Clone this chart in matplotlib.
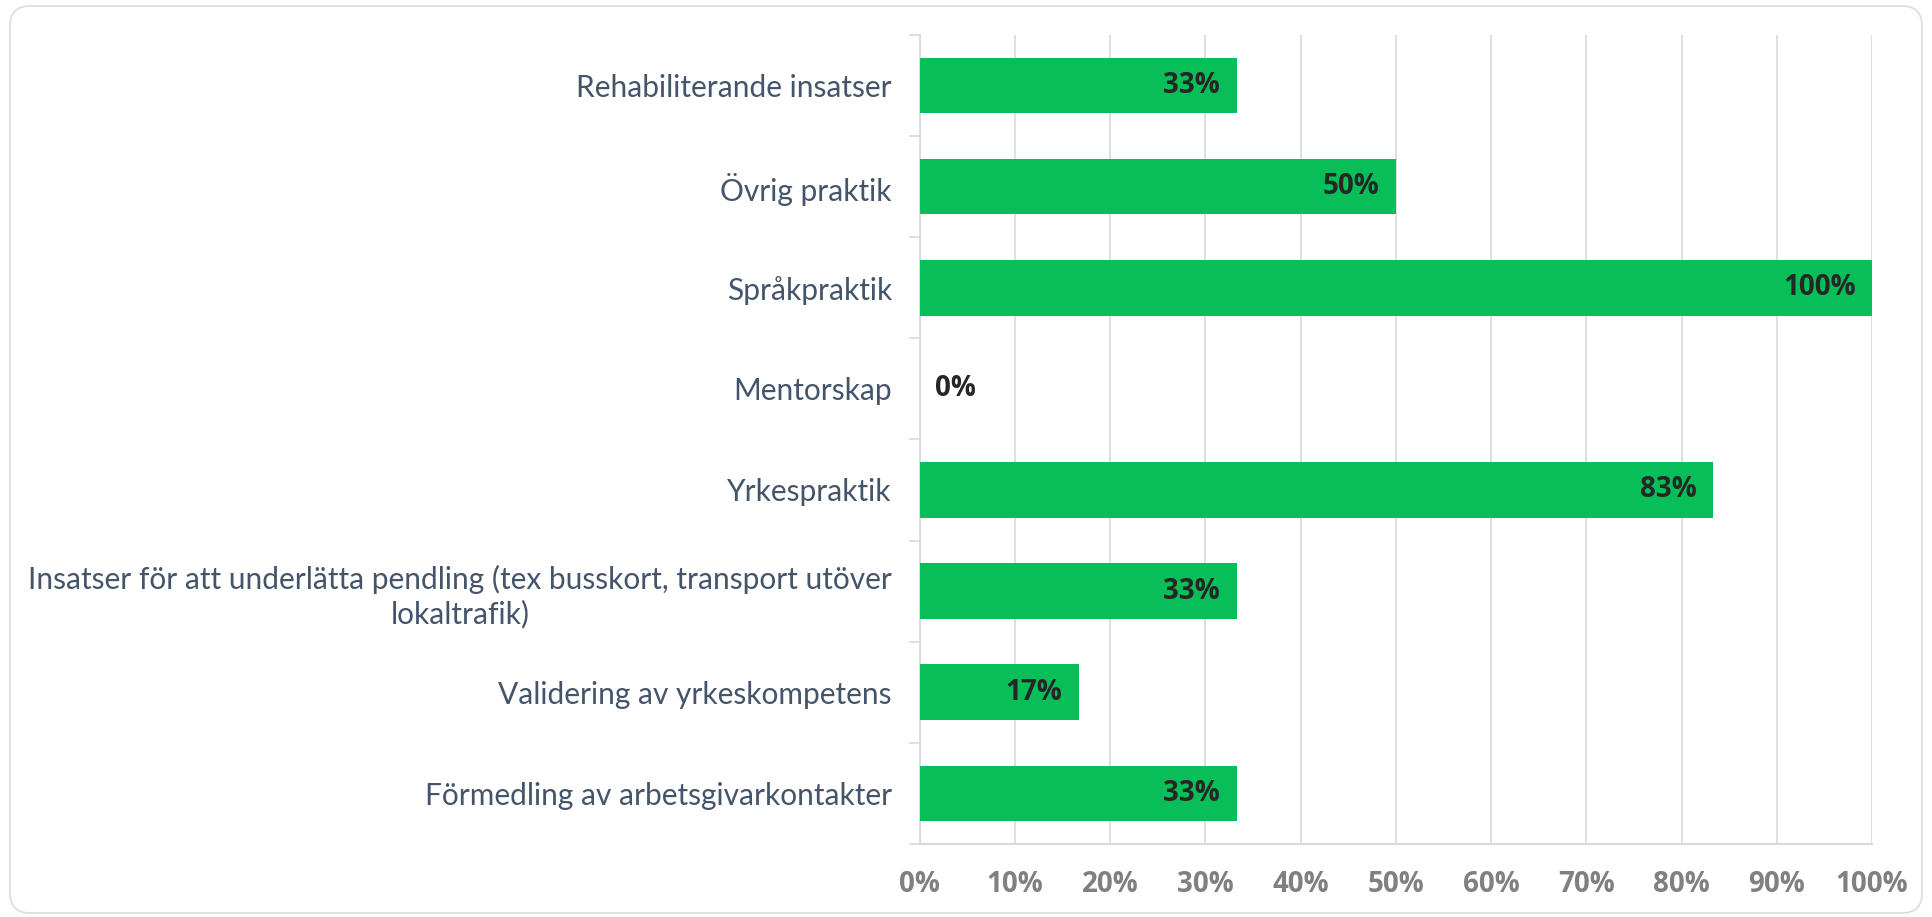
import matplotlib.pyplot as plt
from matplotlib.patches import FancyBboxPatch
from matplotlib.ticker import MultipleLocator, FuncFormatter
import numpy as np

plt.rcParams['font.family'] = ['Lato', 'DejaVu Sans']

categories = [
    "Rehabiliterande insatser",
    "Övrig praktik",
    "Språkpraktik",
    "Mentorskap",
    "Yrkespraktik",
    "Insatser för att underlätta pendling (tex busskort, transport utöver\nlokaltrafik)",
    "Validering av yrkeskompetens",
    "Förmedling av arbetsgivarkontakter",
]
values = [33.3, 50.0, 100.0, 0.0, 83.3, 33.3, 16.7, 33.3]

green = "#07BE59"
label_col = "#44546A"
grid_col = "#D9D9D9"
bold_font = ['Open Sans', 'DejaVu Sans']

fig = plt.figure(figsize=(19.32, 9.17), dpi=100)
# rounded frame, in inches
frame = FancyBboxPatch((0.1, 0.04), 19.12, 9.07,
                       boxstyle="round,pad=0,rounding_size=0.2",
                       transform=fig.dpi_scale_trans, fc="white",
                       ec="#DCDCDC", lw=1.2, zorder=-5)
fig.patches.append(frame)

ax = fig.add_axes([0.476, 0.0796, 0.493, 0.8824])
ax.set_facecolor("none")

y = np.arange(len(categories))
ax.barh(y, values, height=0.55, color=green, zorder=3)
ax.set_ylim(len(categories) - 0.5, -0.5)
ax.set_xlim(0, 100)

for yi, v in zip(y, values):
    if v > 0:
        ax.annotate(f"{v:.0f}%", (v, yi), xytext=(-12, 0), textcoords="offset points",
                    ha="right", va="center", fontsize=20, fontweight="bold",
                    family=bold_font, color="#262626", zorder=4)
    else:
        ax.annotate(f"{v:.0f}%", (v, yi), xytext=(11, 0), textcoords="offset points",
                    ha="left", va="center", fontsize=20, fontweight="bold",
                    family=bold_font, color="#262626", zorder=4)

ax.xaxis.set_major_locator(MultipleLocator(10))
ax.xaxis.set_major_formatter(FuncFormatter(lambda x, p: f"{x:.0f}%"))
ax.grid(axis="x", color=grid_col, lw=1.2, zorder=0)
ax.tick_params(axis="x", length=0, pad=19, labelsize=20, labelcolor="#808080")
for t in ax.get_xticklabels():
    t.set_fontweight("bold")
    t.set_family(bold_font)

ax.set_yticks(y)
ax.set_yticklabels(categories, fontsize=21.5, color=label_col)
ax.set_yticks(np.arange(len(categories) + 1) - 0.5, minor=True)
ax.tick_params(axis="y", which="major", length=0, pad=20)
ax.tick_params(axis="y", which="minor", length=8, color=grid_col, width=1.2)
for t in ax.get_yticklabels():
    t.set_multialignment("center")
    t.set_linespacing(1.25)

for s in ["top", "right"]:
    ax.spines[s].set_visible(False)
ax.spines["left"].set_color(grid_col)
ax.spines["bottom"].set_color(grid_col)
ax.spines["left"].set_linewidth(1.2)
ax.spines["bottom"].set_linewidth(1.5)

fig.savefig("out.png", dpi=100)
